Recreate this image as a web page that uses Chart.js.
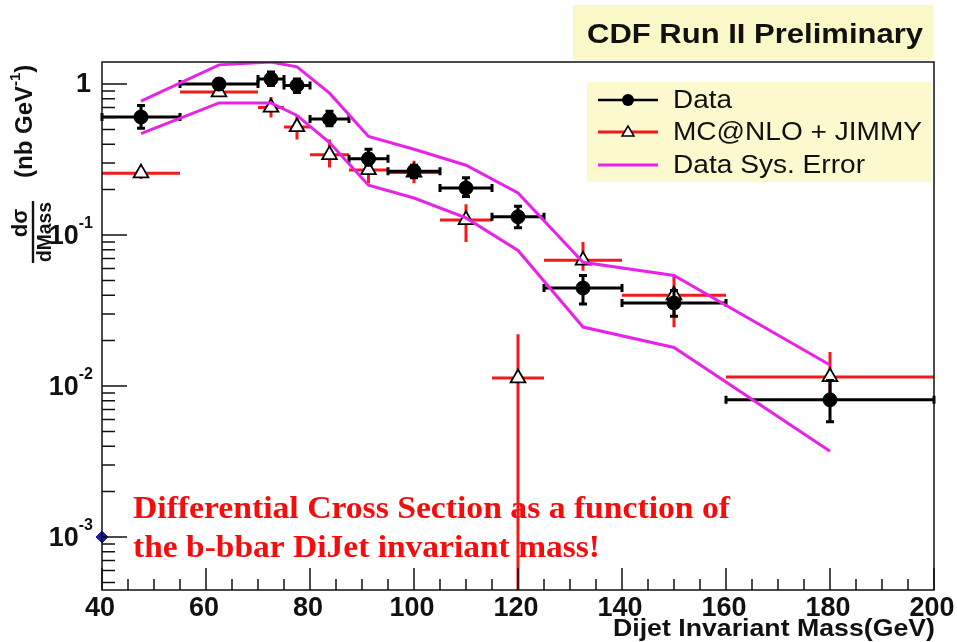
<!DOCTYPE html>
<html>
<head>
<meta charset="utf-8">
<script src="https://cdn.jsdelivr.net/npm/chart.js@4.4.1/dist/chart.umd.min.js"></script>
<style>
  html, body { margin: 0; padding: 0; background: #fff; }
  #chart { display: block; }
</style>
</head>
<body>
<canvas id="chart" width="957" height="642"></canvas>
<script>
// mass bins (GeV)
const binLow  = [40, 55, 70, 75, 80, 87.5, 95, 105, 115, 125, 140, 160];
const binHigh = [55, 70, 75, 80, 87.5, 95, 105, 115, 125, 140, 160, 200];
const binMid  = [47.5, 62.5, 72.5, 77.5, 83.75, 91.25, 100, 110, 120, 132.5, 150, 180];

// Data points, nb/GeV
const dataVal     = [0.605, 1.0, 1.08, 0.98, 0.586, 0.32, 0.265, 0.205, 0.132, 0.0446, 0.0355, 0.0081];
const dataErrLow  = [0.51, 0.92, 0.98, 0.88, 0.53, 0.29, 0.24, 0.18, 0.112, 0.035, 0.029, 0.0058];
const dataErrHigh = [0.72, 1.08, 1.2, 1.08, 0.66, 0.37, 0.29, 0.24, 0.155, 0.054, 0.043, 0.0109];

// MC@NLO + JIMMY
const mcVal     = [0.257, 0.885, 0.70, 0.52, 0.34, 0.27, 0.26, 0.126, 0.0113, 0.068, 0.040, 0.0115];
const mcErrLow  = [0.235, 0.85, 0.60, 0.43, 0.28, 0.22, 0.22, 0.09, 0.0003, 0.058, 0.0245, 0.008];
const mcErrHigh = [0.28, 0.93, 0.82, 0.62, 0.43, 0.33, 0.31, 0.16, 0.022, 0.09, 0.054, 0.0168];

// systematic band edges
const sysMass  = [47.5, 62.5, 72.5, 77.5, 83.75, 91.25, 100, 110, 120, 132.5, 150, 180];
const sysUpper = [0.77, 1.34, 1.40, 1.30, 0.87, 0.45, 0.37, 0.29, 0.19, 0.066, 0.054, 0.0138];
const sysLower = [0.47, 0.75, 0.75, 0.62, 0.41, 0.214, 0.176, 0.13, 0.079, 0.0246, 0.018, 0.0037];

// stray blue marker on the axis
const blueMark = [{ x: 40, y: 0.001 }];

const xTickLabels = [40, 60, 80, 100, 120, 140, 160, 180, 200];
const yDecades = [0, -1, -2, -3];

const RED = "#f21a1a";
const MAGENTA = "#e822e8";

function fitText(ctx, text, x, y, width, align) {
    const w = ctx.measureText(text).width;
    ctx.save();
    ctx.translate(x, y);
    ctx.scale(width / w, 1);
    ctx.textAlign = align;
    ctx.fillText(text, 0, 0);
    ctx.restore();
}

function drawErrors(chart, vals, lo, hi, color, caps) {
    const ctx = chart.ctx, xs = chart.scales.x, ys = chart.scales.y, a = chart.chartArea;
    ctx.save();
    ctx.beginPath();
    ctx.rect(a.left - 5, a.top, a.right - a.left + 10, a.bottom - a.top);
    ctx.clip();
    ctx.strokeStyle = color;
    ctx.lineWidth = 3;
    for (let i = 0; i < vals.length; i++) {
        const px = xs.getPixelForValue(binMid[i]);
        const py = ys.getPixelForValue(vals[i]);
        const x1 = xs.getPixelForValue(binLow[i]);
        const x2 = xs.getPixelForValue(binHigh[i]);
        const y1 = ys.getPixelForValue(lo[i]);
        const y2 = ys.getPixelForValue(hi[i]);
        ctx.beginPath();
        ctx.moveTo(x1, py); ctx.lineTo(x2, py);
        ctx.moveTo(px, y1); ctx.lineTo(px, y2);
        if (caps) {
            ctx.moveTo(x1, py - 4); ctx.lineTo(x1, py + 4);
            ctx.moveTo(x2, py - 4); ctx.lineTo(x2, py + 4);
            ctx.moveTo(px - 4, y1); ctx.lineTo(px + 4, y1);
            ctx.moveTo(px - 4, y2); ctx.lineTo(px + 4, y2);
        }
        ctx.stroke();
    }
    ctx.restore();
}

const decorations = {
    id: "decorations",
    beforeDatasetsDraw(chart) {
        const ctx = chart.ctx;
        // red note inside the frame
        ctx.save();
        ctx.fillStyle = "#f50c0c";
        ctx.font = "bold 31px 'Liberation Serif', 'DejaVu Serif', serif";
        ctx.textBaseline = "alphabetic";
        fitText(ctx, "Differential Cross Section as a function of", 133, 518, 597, "left");
        fitText(ctx, "the b-bbar DiJet invariant mass!", 133, 557, 467, "left");
        ctx.restore();
    },
    beforeDatasetDraw(chart, args) {
        if (args.index === 3) drawErrors(chart, mcVal, mcErrLow, mcErrHigh, RED, false);
        if (args.index === 2) drawErrors(chart, dataVal, dataErrLow, dataErrHigh, "#000", true);
    },
    afterDatasetsDraw(chart) {
        const ctx = chart.ctx, xs = chart.scales.x, ys = chart.scales.y, a = chart.chartArea;
        ctx.save();
        ctx.strokeStyle = "#111";
        ctx.lineWidth = 1.5;
        ctx.strokeRect(a.left, a.top, a.right - a.left, a.bottom - a.top);

        // x ticks
        ctx.beginPath();
        for (let v = 40; v <= 200; v += 5) {
            const px = xs.getPixelForValue(v);
            const len = v % 20 === 0 ? 22 : 11;
            ctx.moveTo(px, a.bottom); ctx.lineTo(px, a.bottom - len);
        }
        // y ticks (log, inside)
        for (let d = -4; d <= 0; d++) {
            for (let m = 1; m <= 9; m++) {
                const v = m * Math.pow(10, d);
                if (v < ys.min || v > ys.max) continue;
                const py = ys.getPixelForValue(v);
                const len = m === 1 ? 25 : 13;
                ctx.moveTo(a.left, py); ctx.lineTo(a.left + len, py);
            }
        }
        ctx.stroke();

        // x tick labels
        ctx.fillStyle = "#111";
        ctx.font = "bold 27px 'Liberation Sans', Arial, sans-serif";
        ctx.textAlign = "center";
        ctx.textBaseline = "top";
        xTickLabels.forEach(v => ctx.fillText(String(v), xs.getPixelForValue(v) - 2, 595));

        // y tick labels
        ctx.textBaseline = "middle";
        yDecades.forEach(d => {
            const py = ys.getPixelForValue(Math.pow(10, d));
            if (d === 0) {
                ctx.textAlign = "right";
                ctx.font = "bold 27px 'Liberation Sans', Arial, sans-serif";
                ctx.fillText("1", 91, py);
                return;
            }
            ctx.font = "bold 16px 'Liberation Sans', Arial, sans-serif";
            const sup = String(d);
            const sw = ctx.measureText(sup).width;
            ctx.textAlign = "left";
            ctx.fillText(sup, 93 - sw, py - 11);
            ctx.font = "bold 27px 'Liberation Sans', Arial, sans-serif";
            ctx.textAlign = "right";
            ctx.fillText("10", 93 - sw, py + 1);
        });

        // x axis title
        ctx.font = "bold 24px 'Liberation Sans', Arial, sans-serif";
        ctx.textBaseline = "alphabetic";
        fitText(ctx, "Dijet Invariant Mass(GeV)", 935, 636, 322, "right");

        // y axis title (rotated fraction + units)
        ctx.save();
        ctx.translate(33, 0);
        ctx.rotate(-Math.PI / 2);
        ctx.textBaseline = "middle";
        ctx.textAlign = "center";
        ctx.font = "bold 22px 'Liberation Sans', Arial, sans-serif";
        ctx.fillText("d\u03c3", -223, -12);
        ctx.font = "bold 21px 'Liberation Sans', Arial, sans-serif";
        fitText(ctx, "dMass", -232, 12, 60, "center");
        ctx.fillRect(-263, -1.2, 62, 2.4);
        // (nb GeV^-1)
        ctx.font = "bold 24px 'Liberation Sans', Arial, sans-serif";
        ctx.textAlign = "left";
        const p1 = "(nb GeV";
        const w1 = ctx.measureText(p1).width;
        ctx.font = "bold 15px 'Liberation Sans', Arial, sans-serif";
        const w2 = ctx.measureText("-1").width;
        const start = -178;
        ctx.font = "bold 24px 'Liberation Sans', Arial, sans-serif";
        ctx.fillText(p1, start, -8);
        ctx.font = "bold 15px 'Liberation Sans', Arial, sans-serif";
        ctx.fillText("-1", start + w1, -17);
        ctx.font = "bold 24px 'Liberation Sans', Arial, sans-serif";
        ctx.fillText(")", start + w1 + w2, -8);
        ctx.restore();

        // title box
        ctx.fillStyle = "#fbf8c8";
        ctx.fillRect(573, 5, 360, 55);
        ctx.fillStyle = "#111";
        ctx.font = "bold 27px 'Liberation Sans', Arial, sans-serif";
        ctx.textBaseline = "alphabetic";
        fitText(ctx, "CDF Run II Preliminary", 587, 43, 336, "left");

        // legend box
        ctx.fillStyle = "#fcf9cf";
        ctx.fillRect(587, 82, 344, 100);
        const rows = [100, 132, 165];
        // Data
        ctx.strokeStyle = "#000"; ctx.lineWidth = 2.5;
        ctx.beginPath(); ctx.moveTo(598, rows[0]); ctx.lineTo(658, rows[0]); ctx.stroke();
        ctx.fillStyle = "#000";
        ctx.beginPath(); ctx.arc(628, rows[0], 6, 0, Math.PI * 2); ctx.fill();
        // MC
        ctx.strokeStyle = RED; ctx.lineWidth = 3;
        ctx.beginPath(); ctx.moveTo(598, rows[1]); ctx.lineTo(658, rows[1]); ctx.stroke();
        ctx.fillStyle = "#fff"; ctx.strokeStyle = "#000"; ctx.lineWidth = 1.5;
        ctx.beginPath();
        ctx.moveTo(628, rows[1] - 6); ctx.lineTo(634, rows[1] + 4); ctx.lineTo(622, rows[1] + 4);
        ctx.closePath(); ctx.fill(); ctx.stroke();
        // Sys
        ctx.strokeStyle = MAGENTA; ctx.lineWidth = 3;
        ctx.beginPath(); ctx.moveTo(598, rows[2]); ctx.lineTo(658, rows[2]); ctx.stroke();

        ctx.fillStyle = "#111";
        ctx.font = "25px 'Liberation Sans', Arial, sans-serif";
        ctx.textBaseline = "middle";
        fitText(ctx, "Data", 673, rows[0] + 1, 59, "left");
        fitText(ctx, "MC@NLO + JIMMY", 673, rows[1] + 1, 249, "left");
        fitText(ctx, "Data Sys. Error", 673, rows[2] + 1, 192, "left");
        ctx.restore();
    }
};

const ctx = document.getElementById("chart").getContext("2d");
new Chart(ctx, {
    type: "scatter",
    data: {
        datasets: [
            {
                label: "Data Sys. Error",
                data: sysMass.map((x, i) => ({ x: x, y: sysUpper[i] })),
                showLine: true, borderColor: MAGENTA, borderWidth: 3,
                pointRadius: 0, tension: 0, order: 0
            },
            {
                label: "Data Sys. Error low",
                data: sysMass.map((x, i) => ({ x: x, y: sysLower[i] })),
                showLine: true, borderColor: MAGENTA, borderWidth: 3,
                pointRadius: 0, tension: 0, order: 0
            },
            {
                label: "Data",
                data: binMid.map((x, i) => ({ x: x, y: dataVal[i] })),
                pointStyle: "circle", pointRadius: 7,
                backgroundColor: "#000", borderColor: "#000", borderWidth: 1,
                order: 1, clip: false
            },
            {
                label: "MC@NLO + JIMMY",
                data: binMid.map((x, i) => ({ x: x, y: mcVal[i] })),
                pointStyle: "triangle", pointRadius: 8.5,
                backgroundColor: "#fff", borderColor: "#000", borderWidth: 1.8,
                order: 2, clip: false
            },
            {
                label: "marker",
                data: blueMark,
                pointStyle: "rectRot", pointRadius: 6,
                backgroundColor: "#1a1aa8", borderColor: "#1a1aa8",
                order: 3, clip: false
            }
        ]
    },
    options: {
        responsive: false,
        animation: false,
        layout: { padding: { left: 102, right: 23, top: 62, bottom: 52 } },
        plugins: { legend: { display: false }, tooltip: { enabled: false } },
        scales: {
            x: { type: "linear", min: 40, max: 200, display: false },
            y: { type: "logarithmic", min: 4.46e-4, max: 1.4, display: false }
        }
    },
    plugins: [decorations]
});
</script>
</body>
</html>
